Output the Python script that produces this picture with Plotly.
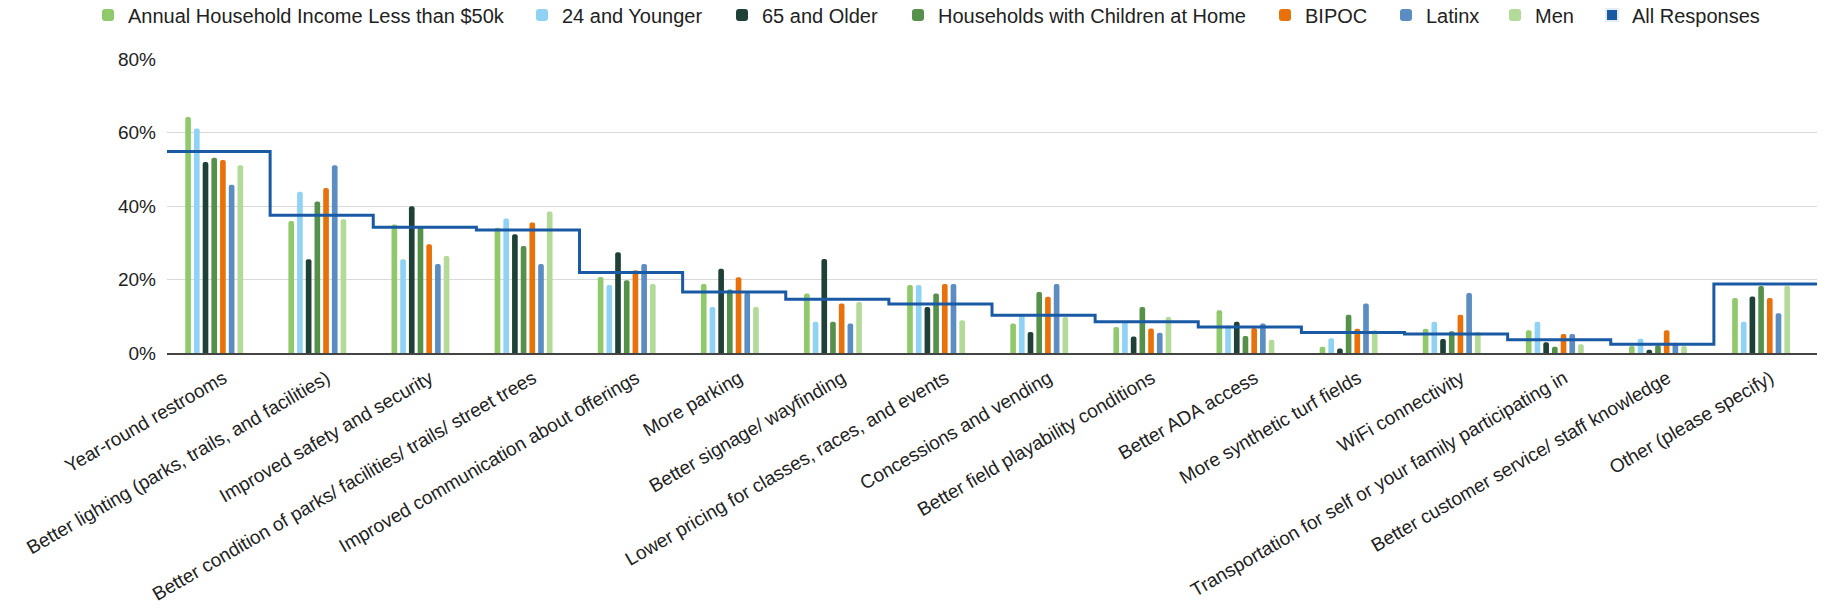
import plotly.graph_objects as go

categories = [
    "Year-round restrooms",
    "Better lighting (parks, trails, and facilities)",
    "Improved safety and security",
    "Better condition of parks/ facilities/ trails/ street trees",
    "Improved communication about offerings",
    "More parking",
    "Better signage/ wayfinding",
    "Lower pricing for classes, races, and events",
    "Concessions and vending",
    "Better field playability conditions",
    "Better ADA access",
    "More synthetic turf fields",
    "WiFi connectivity",
    "Transportation for self or your family participating in",
    "Better customer service/ staff knowledge",
    "Other (please specify)",
]

income_lt_50k = [64.2, 35.9, 35.0, 34.1, 20.7, 18.8, 16.2, 18.5, 8.0, 7.1, 11.6, 1.7, 6.6, 6.2, 1.9, 15.0]
age_24_younger = [61.1, 43.9, 25.5, 36.6, 18.5, 12.5, 8.5, 18.5, 10.3, 8.5, 7.5, 4.0, 8.5, 8.5, 3.9, 8.5]
age_65_older = [52.0, 25.5, 39.9, 32.3, 27.4, 22.9, 25.6, 12.5, 5.7, 4.5, 8.5, 1.2, 3.8, 2.9, 0.9, 15.4]
households_children = [53.1, 41.2, 34.5, 29.1, 19.8, 17.3, 8.5, 16.2, 16.6, 12.5, 4.6, 10.4, 5.9, 1.7, 2.1, 18.2]
bipoc = [52.5, 44.9, 29.6, 35.5, 22.5, 20.6, 13.5, 18.8, 15.3, 6.7, 6.8, 6.6, 10.4, 5.2, 6.2, 15.0]
latinx = [45.8, 51.1, 24.2, 24.2, 24.2, 16.4, 8.0, 18.8, 18.8, 5.5, 8.0, 13.5, 16.3, 5.2, 2.8, 10.8]
men = [51.1, 36.4, 26.4, 38.5, 18.8, 12.5, 13.9, 8.9, 9.8, 9.8, 3.6, 6.2, 5.7, 2.4, 1.9, 18.3]
all_responses = [54.8, 37.5, 34.2, 33.5, 21.9, 16.6, 14.6, 13.3, 10.3, 8.5, 7.1, 5.6, 5.2, 3.6, 2.4, 18.8]

series_names = [
    "Annual Household Income Less than $50k", "24 and Younger", "65 and Older",
    "Households with Children at Home", "BIPOC", "Latinx", "Men",
]
series_values = [income_lt_50k, age_24_younger, age_65_older, households_children,
                 bipoc, latinx, men]
series_colors = ["#8fc96b", "#8fd2f4", "#1f4036", "#55914a", "#e8710a", "#5b8cc2", "#b3da98"]
all_name = "All Responses"
all_color = "#1a5aa5"

W, H = 1826, 610
legend_item_px = [88, 522, 722, 898, 1265, 1386, 1495, 1592]  # x of each legend item
legend_ids = ["legend"] + [f"legend{i}" for i in range(2, 9)]

fig = go.Figure()
for i, (name, vals, col) in enumerate(zip(series_names, series_values, series_colors)):
    fig.add_trace(go.Bar(
        name=name, x=categories, y=vals, legend=legend_ids[i],
        marker=dict(color=col, line=dict(width=0), cornerradius=3),
    ))

# legend-only swatch for the stepped line (square swatch like the original)
fig.add_trace(go.Bar(name=all_name, x=[categories[0]], y=[None], legend=legend_ids[7],
                     marker=dict(color=all_color), showlegend=True))

# stepped "All Responses" line spanning each category's full width
n = len(categories)
step_x = list(range(n)) + [n]
step_y = all_responses + [all_responses[-1]]
fig.add_trace(go.Scatter(
    x=step_x, y=step_y, xaxis="x2", mode="lines",
    line=dict(color=all_color, width=3, shape="hv"),
    showlegend=False, name=all_name,
))

legend_layout = {}
for lid, px in zip(legend_ids, legend_item_px):
    legend_layout[lid] = dict(
        orientation="h", xref="container", yref="container",
        x=px / W, xanchor="left", y=1 - 15 / H, yanchor="middle",
        font=dict(size=20, color="#222"), bgcolor="rgba(0,0,0,0)",
        borderwidth=0, itemsizing="constant",
    )

fig.update_layout(
    width=W, height=H,
    paper_bgcolor="white", plot_bgcolor="white",
    barmode="group", bargap=0.325, bargroupgap=0.35,
    margin=dict(l=167, r=9, t=59, b=257, autoexpand=False),
    font=dict(family="Liberation Sans, Arial, sans-serif", color="#222"),
    xaxis=dict(type="category", range=[-0.5, n - 0.5], tickangle=-30,
               tickfont=dict(size=19, color="#222"), showgrid=False,
               showline=True, linecolor="#444", linewidth=2, ticks="",
               ticklabelstandoff=5, ticklabelshift=5, automargin=False),
    xaxis2=dict(overlaying="x", range=[0, n], visible=False),
    yaxis=dict(range=[0, 80], dtick=20, ticksuffix="%", showgrid=True,
               gridcolor="#d9d9d9", gridwidth=1, zeroline=False,
               ticklabelstandoff=10,
               tickfont=dict(size=19, color="#222"), automargin=False),
    showlegend=True,
    **legend_layout,
)

fig.write_html("out.html", config={"displayModeBar": False},
               post_script="document.body.style.margin='0';")
